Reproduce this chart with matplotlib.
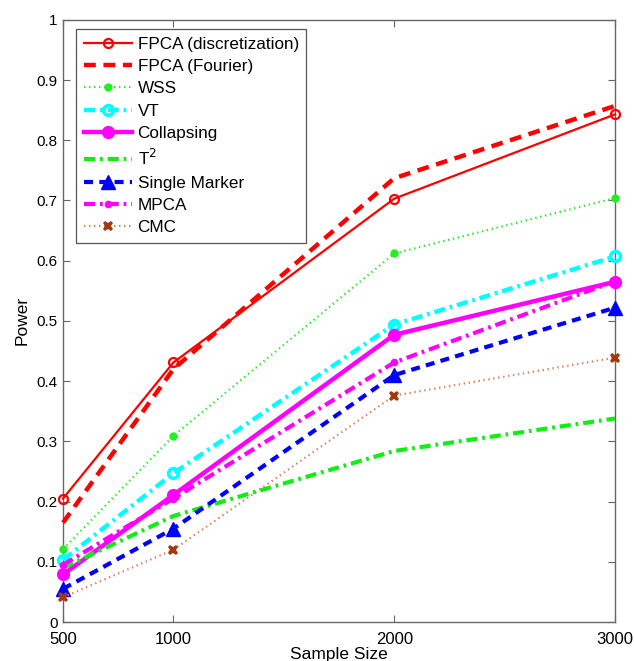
import matplotlib
matplotlib.use('Agg')
import matplotlib.pyplot as plt

plt.rcParams['font.family'] = ['Liberation Sans', 'DejaVu Sans']
plt.rcParams['lines.scale_dashes'] = False

sample_size = [500, 1000, 2000, 3000]

fpca_disc = [0.205, 0.431, 0.703, 0.843]
fpca_fourier = [0.165, 0.42, 0.737, 0.857]
wss = [0.121, 0.309, 0.612, 0.704]
vt = [0.103, 0.247, 0.494, 0.607]
collapsing = [0.079, 0.211, 0.477, 0.565]
t2 = [0.09, 0.176, 0.284, 0.338]
single_marker = [0.055, 0.155, 0.41, 0.522]
mpca = [0.095, 0.205, 0.431, 0.566]
cmc = [0.041, 0.12, 0.376, 0.439]

fig = plt.figure(figsize=(6.34, 6.61), dpi=100)
ax = fig.add_axes([0.0994, 0.059, 0.8707, 0.911])

# name, data, color, linestyle, lw, marker, ms, mfc, mew
series = [
    ('FPCA (discretization)', fpca_disc, 'red', '-', 1.6, 'o', 6.5, 'none', 1.6),
    ('FPCA (Fourier)', fpca_fourier, 'red', (0, (8.5, 5.5)), 3.2, None, 0, 'none', 0),
    ('WSS', wss, '#22ee22', (0, (1.0, 2.6)), 1.6, 'o', 6, '#22ee22', 0),
    ('VT', vt, 'cyan', (0, (8, 3.5, 2, 3.5)), 3.2, 'o', 7, 'none', 2.6),
    ('Collapsing', collapsing, 'magenta', '-', 3.2, 'o', 8, 'magenta', 1.5),
    ('T$^2$', t2, '#11ee11', (0, (8, 3.5, 2, 3.5)), 3.0, None, 0, 'none', 0),
    ('Single Marker', single_marker, 'blue', (0, (6.5, 4.5)), 3.0, '^', 10, 'blue', 1),
    ('MPCA', mpca, 'magenta', (0, (8, 3.5, 2, 3.5)), 3.0, 'o', 5.5, 'magenta', 0),
    ('CMC', cmc, '#d4805a', (0, (1.0, 2.6)), 1.6, 'X', 7.5, '#a03a10', 0),
]

for name, vals, col, ls, lw, mk, ms, mfc, mew in series:
    mec = mfc if name == 'CMC' else col
    ax.plot(sample_size, vals, color=col, linestyle=ls, linewidth=lw,
            marker=mk, markersize=ms, markerfacecolor=mfc,
            markeredgecolor=mec, markeredgewidth=mew, label=name,
            clip_on=False, zorder=3)

ax.set_xlim(500, 3000)
ax.set_ylim(0, 1)
ax.set_xticks(sample_size)
ax.set_yticks([i / 10 for i in range(11)])
ax.set_yticklabels(['0', '0.1', '0.2', '0.3', '0.4', '0.5', '0.6', '0.7', '0.8', '0.9', '1'])

for sp in ax.spines.values():
    sp.set_color('#666666')
    sp.set_linewidth(1.0)
ax.tick_params(direction='in', length=5, width=0.8, color='#666666',
               top=True, right=True, pad=4)
ax.tick_params(axis='y', labelsize=11)
ax.tick_params(axis='x', labelsize=12, pad=7)

ax.set_xlabel('Sample Size', fontsize=12.5, labelpad=0)
ax.set_ylabel('Power', fontsize=12.5, labelpad=5)

leg = ax.legend(loc='upper left', bbox_to_anchor=(0.0236, 0.985), fontsize=12.3,
                handlelength=2.8, labelspacing=0.43, borderpad=0.45,
                handletextpad=0.35, fancybox=False, framealpha=1,
                edgecolor='#555555', borderaxespad=0)
leg.get_frame().set_linewidth(0.9)

fig.savefig('out.png', dpi=100)
